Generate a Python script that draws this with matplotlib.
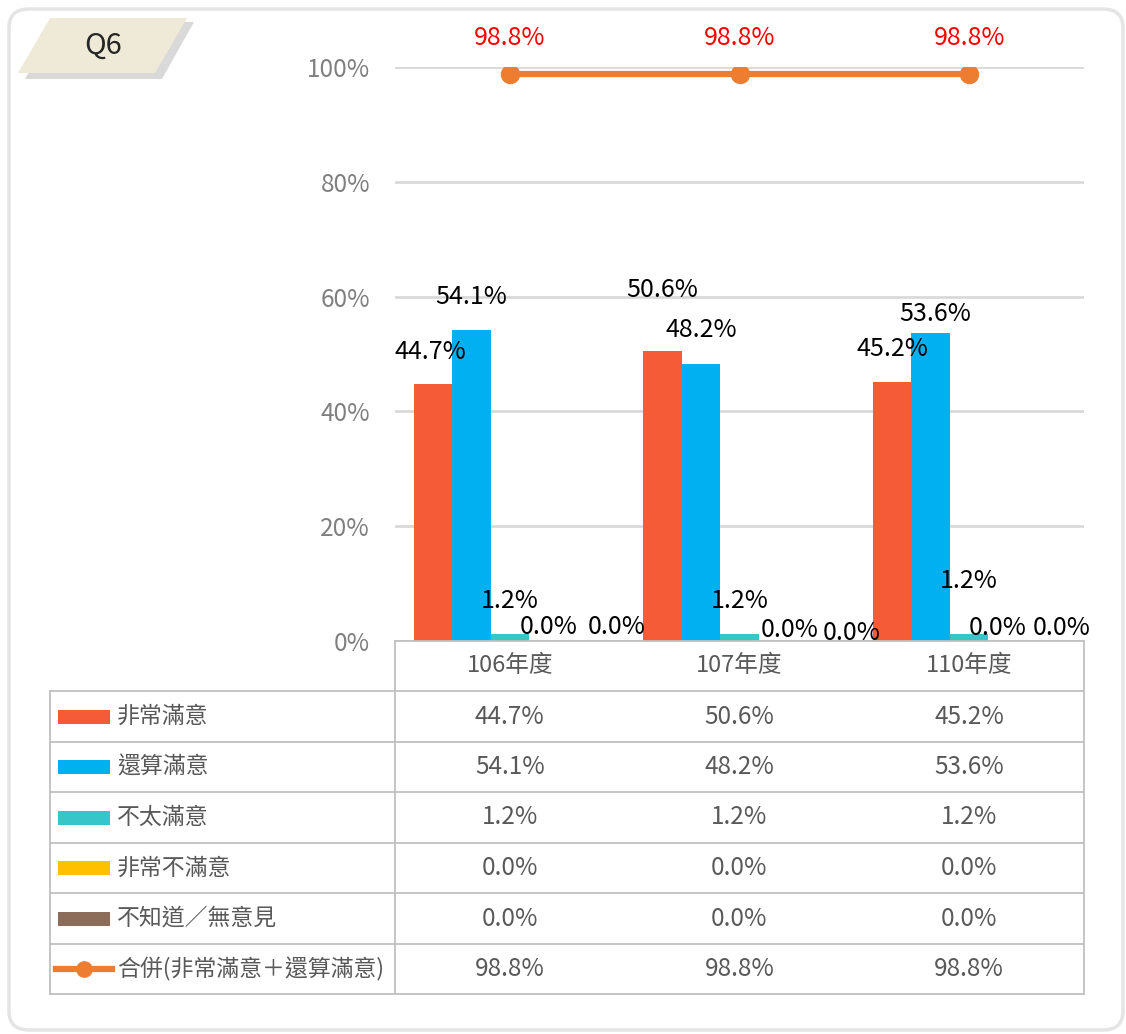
import matplotlib
matplotlib.use("Agg")
import matplotlib.pyplot as plt
from matplotlib.patches import Rectangle, Polygon, FancyBboxPatch
from matplotlib.lines import Line2D
import numpy as np

plt.rcParams['font.family'] = ['Noto Sans CJK TC', 'DejaVu Sans']

# ---- data ----
years = ['106年度', '107年度', '110年度']
series_names = ['非常滿意', '還算滿意', '不太滿意', '非常不滿意', '不知道/無意見']
very_satisfied = [44.7, 50.6, 45.2]
fairly_satisfied = [54.1, 48.2, 53.6]
not_very_satisfied = [1.2, 1.2, 1.2]
very_unsatisfied = [0.0, 0.0, 0.0]
no_opinion = [0.0, 0.0, 0.0]
combined_name = '合併(非常滿意＋還算滿意)'
combined = [98.8, 98.8, 98.8]
yticks = [0, 20, 40, 60, 80, 100]

series = [very_satisfied, fairly_satisfied, not_very_satisfied, very_unsatisfied, no_opinion]
colors = ['#F55B36', '#00B0F0', '#36C5C8', '#FFC000', '#8B6D5A']
line_color = '#ED7D31'

# label nudges in pixels (dx, dy above bar top), mimicking the original placement
label_nudge = [
    [(-2, 32), (0, 33), (0, 33), (0, 14), (30, 14)],
    [(0, 61), (0, 34), (0, 33), (12, 11), (35, 8)],
    [(0, 33), (5, 19), (0, 53), (-10, 13), (16, 13)],
]

W, H = 1126, 1034
fig = plt.figure(figsize=(W / 100, H / 100), dpi=100)


def fx(px):
    return px / W


def fy(py):
    return 1 - py / H


# outer rounded frame
frame = FancyBboxPatch((fx(9), fy(1030)), fx(1114), (1021) / H,
                       boxstyle="round,pad=0,rounding_size=0.018",
                       transform=fig.transFigure, fill=False,
                       edgecolor='#e4e4e4', linewidth=2.5)
fig.add_artist(frame)

# Q6 badge
shadow = Polygon([(fx(57), fy(22)), (fx(194), fy(22)), (fx(162), fy(79)), (fx(25), fy(79))],
                 closed=True, transform=fig.transFigure, facecolor='#d9d9d9', edgecolor='none')
badge = Polygon([(fx(50), fy(18)), (fx(187), fy(18)), (fx(155), fy(73)), (fx(18), fy(73))],
                closed=True, transform=fig.transFigure, facecolor='#EFEAD8', edgecolor='none')
fig.add_artist(shadow)
fig.add_artist(badge)
fig.text(fx(103), fy(46), 'Q6', fontsize=21, color='#262626', ha='center', va='center',
         fontweight='medium')

# main axes
ax = fig.add_axes([fx(395), fy(641), fx(1084 - 395), (641 - 67) / H])
n = len(years)
x = np.arange(n)
bw = 0.1676
for j, (vals, c) in enumerate(zip(series, colors)):
    ax.bar(x + (j - 2) * bw, vals, width=bw, color=c, zorder=3, label=series_names[j])
    for i, v in enumerate(vals):
        dx, dy = label_nudge[i][j]
        ax.annotate(f'{v:.1f}%', (x[i] + (j - 2) * bw, v), xytext=(dx, dy),
                    textcoords='offset pixels', ha='center', va='center',
                    fontsize=18, color='black', zorder=5)

ax.plot(x, combined, color=line_color, linewidth=4.5, marker='o', markersize=13, zorder=4)
for i, v in enumerate(combined):
    ax.annotate(f'{v:.1f}%', (x[i], v), xytext=(0, 36), textcoords='offset pixels',
                ha='center', va='center', fontsize=18, color='#FF0000')

ax.set_xlim(-0.5, n - 0.5)
ax.set_ylim(0, 100)
ax.set_yticks(yticks)
ax.set_yticklabels([f'{t}%' for t in yticks], fontsize=17.5, color='#7f7f7f')
ax.tick_params(axis='y', length=0, pad=18)
ax.set_xticks([])
ax.grid(axis='y', color='#d9d9d9', linewidth=2, zorder=0)
for s in ax.spines.values():
    s.set_visible(False)
ax.patch.set_alpha(0)

# ---- data table below ----
grid_c = '#c0c0c0'
row_edges = [641, 691, 742, 792, 843, 893, 944, 994]


def hline(y, x0, x1):
    fig.add_artist(Line2D([fx(x0), fx(x1)], [fy(y), fy(y)], color=grid_c, linewidth=1.3,
                          transform=fig.transFigure))


def vline(xp, y0, y1):
    fig.add_artist(Line2D([fx(xp), fx(xp)], [fy(y0), fy(y1)], color=grid_c, linewidth=1.3,
                          transform=fig.transFigure))


hline(641, 395, 1084)
for y in row_edges[1:]:
    hline(y, 50, 1084)
vline(50, 691, 994)
vline(395, 641, 994)
vline(1084, 641, 994)

col_px = [ax.transData.transform((xi, 0))[0] for xi in x]
txt_c = '#595959'
for i, yr in enumerate(years):
    fig.text(col_px[i] / W, fy((row_edges[0] + row_edges[1]) / 2), yr, ha='center',
             va='center', fontsize=17, color=txt_c)

all_rows = series + [combined]
all_names = series_names + [combined_name]
for r, (name, vals) in enumerate(zip(all_names, all_rows)):
    yc = (row_edges[r + 1] + row_edges[r + 2]) / 2
    if r < len(series):
        fig.add_artist(Rectangle((fx(58), fy(yc + 7)), fx(52), 14 / H,
                                 transform=fig.transFigure, facecolor=colors[r], edgecolor='none'))
    else:
        fig.add_artist(Line2D([fx(56), fx(112)], [fy(yc), fy(yc)], color=line_color,
                              linewidth=4.5, marker=None, transform=fig.transFigure))
        fig.add_artist(Line2D([fx(84)], [fy(yc)], color=line_color, marker='o',
                              markersize=11, transform=fig.transFigure))
    fig.text(fx(117), fy(yc), name.replace('/', '∕'), ha='left', va='center',
             fontsize=16.5, color=txt_c)
    for i, v in enumerate(vals):
        fig.text(col_px[i] / W, fy(yc), f'{v:.1f}%', ha='center', va='center',
                 fontsize=17.5, color=txt_c)

fig.savefig('out.png', dpi=100)
